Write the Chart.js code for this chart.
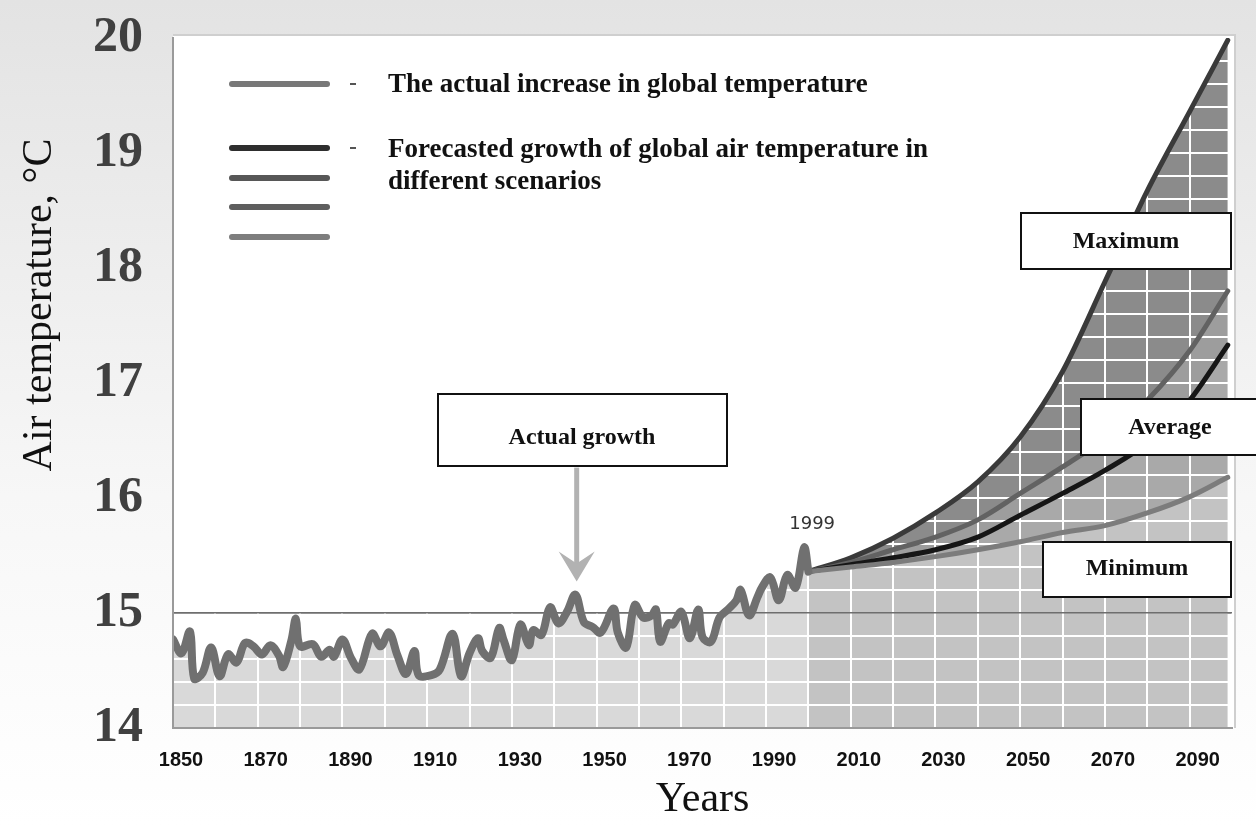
<!DOCTYPE html>
<html>
<head>
<meta charset="utf-8">
<title>Air temperature</title>
<script src="https://cdn.jsdelivr.net/npm/chart.js@4.4.1/dist/chart.umd.min.js"></script>
<style>
  html, body { margin: 0; padding: 0; background: #fff; overflow: hidden; }
  #contenedor { width: 1256px; height: 826px; position: relative; }
</style>
</head>
<body>
<div id="contenedor"><canvas id="grafico"></canvas></div>
<script>
let aniosReales = [1850, 1852, 1854, 1855, 1857, 1859, 1861, 1863, 1865, 1867, 1869, 1871, 1873, 1875, 1876, 1878, 1879, 1880,
  1883, 1885, 1887, 1888, 1890, 1892, 1894, 1897, 1899, 1901, 1903, 1905, 1907, 1908, 1911, 1913, 1916, 1918, 1920,
  1922, 1923, 1925, 1927, 1928, 1930, 1932, 1934, 1935, 1937, 1939, 1941, 1943, 1945, 1947, 1949, 1951, 1954, 1955,
  1957, 1959, 1961, 1963, 1964, 1965, 1967, 1968, 1970, 1972, 1974, 1975, 1977, 1979, 1981, 1983, 1984, 1986, 1988,
  1989, 1991, 1993, 1995, 1997, 1999, 2000]
let tempReales = [14.77, 14.65, 14.84, 14.43, 14.48, 14.70, 14.45, 14.64, 14.57, 14.74, 14.71, 14.64, 14.72, 14.63, 14.53, 14.77, 14.95, 14.71,
  14.73, 14.62, 14.68, 14.62, 14.77, 14.61, 14.51, 14.82, 14.71, 14.83, 14.63, 14.47, 14.67, 14.46, 14.46, 14.51, 14.82, 14.45, 14.65,
  14.78, 14.67, 14.61, 14.87, 14.77, 14.59, 14.90, 14.72, 14.85, 14.81, 15.05, 14.91, 15.01, 15.16, 14.92, 14.88, 14.83, 15.04, 14.83,
  14.70, 15.07, 14.96, 14.98, 15.03, 14.75, 14.91, 14.90, 15.01, 14.78, 15.03, 14.79, 14.75, 14.96, 15.03, 15.11, 15.20, 14.98, 15.14,
  15.22, 15.31, 15.11, 15.33, 15.22, 15.57, 15.36]

// Escenarios pronosticados
let aniosPronostico = [2000, 2010, 2020, 2030, 2040, 2050, 2060, 2070, 2080, 2090, 2099]
let tempMaxima = [15.36, 15.48, 15.65, 15.87, 16.14, 16.53, 17.10, 17.88, 18.67, 19.36, 19.98]
let tempAlta   = [15.36, 15.44, 15.55, 15.66, 15.81, 16.04, 16.27, 16.52, 16.85, 17.28, 17.80]
let tempMedia  = [15.36, 15.42, 15.48, 15.55, 15.66, 15.85, 16.04, 16.24, 16.48, 16.85, 17.33]
let tempMinima = [15.36, 15.40, 15.44, 15.49, 15.55, 15.62, 15.70, 15.76, 15.87, 16.01, 16.18]

// Etiquetas de los ejes
let etiquetasX = [1850, 1870, 1890, 1910, 1930, 1950, 1970, 1990, 2010, 2030, 2050, 2070, 2090]
let etiquetasY = [14, 15, 16, 17, 18, 19, 20]

let serif = '"Liberation Serif", "Times New Roman", serif'
let sans = '"Liberation Sans", Arial, sans-serif'

let puntos = (xs, ys) => xs.map((x, i) => ({x: x, y: ys[i]}))

// Fondo gris claro y área blanca del gráfico
let fondo = {
  id: 'fondo',
  beforeDraw(chart) {
    let {ctx, width, height, chartArea} = chart
    let grad = ctx.createLinearGradient(0, 0, 0, height)
    grad.addColorStop(0, '#e3e3e3')
    grad.addColorStop(0.6, '#f7f7f7')
    grad.addColorStop(1, '#ffffff')
    ctx.save()
    ctx.fillStyle = grad
    ctx.fillRect(0, 0, width, height)
    ctx.fillStyle = '#ffffff'
    ctx.fillRect(chartArea.left, chartArea.top - 3, chartArea.right - chartArea.left + 3, chartArea.bottom - chartArea.top + 3)
    ctx.strokeStyle = '#cfcfcf'
    ctx.lineWidth = 2
    ctx.beginPath()
    ctx.moveTo(chartArea.left, chartArea.top - 3)
    ctx.lineTo(chartArea.right + 3, chartArea.top - 3)
    ctx.lineTo(chartArea.right + 3, chartArea.bottom)
    ctx.stroke()
    ctx.restore()
  }
}

// La rejilla blanca se vuelve a dibujar encima de los rellenos grises
let rejilla = {
  id: 'rejilla',
  beforeDatasetsDraw(chart) {
    chart.scales.x.drawGrid(chart.chartArea)
    chart.scales.y.drawGrid(chart.chartArea)
  }
}

let caja = (ctx, x, y, w, h, texto, cx, cy) => {
  ctx.fillStyle = '#ffffff'
  ctx.fillRect(x, y, w, h)
  ctx.strokeStyle = '#111111'
  ctx.lineWidth = 2
  ctx.strokeRect(x, y, w, h)
  ctx.fillStyle = '#111111'
  ctx.font = 'bold 24px ' + serif
  ctx.textAlign = 'center'
  ctx.textBaseline = 'middle'
  ctx.fillText(texto, cx, cy)
}

let linea = (ctx, x1, x2, y, color) => {
  ctx.strokeStyle = color
  ctx.lineWidth = 6
  ctx.lineCap = 'round'
  ctx.beginPath()
  ctx.moveTo(x1, y)
  ctx.lineTo(x2, y)
  ctx.stroke()
}

// Leyenda, cajas, flecha y rótulos
let anotaciones = {
  id: 'anotaciones',
  afterDraw(chart) {
    let ctx = chart.ctx
    let sx = chart.scales.x
    let sy = chart.scales.y
    ctx.save()

    // Leyenda
    linea(ctx, 232, 327, 84, '#787878')
    linea(ctx, 232, 327, 148, '#2e2e2e')
    linea(ctx, 232, 327, 178, '#575757')
    linea(ctx, 232, 327, 207, '#5e5e5e')
    linea(ctx, 232, 327, 237, '#7e7e7e')
    ctx.fillStyle = '#555555'
    ctx.fillRect(350, 83, 6, 2)
    ctx.fillRect(350, 147, 6, 2)
    ctx.fillStyle = '#111111'
    ctx.font = 'bold 27px ' + serif
    ctx.textAlign = 'left'
    ctx.textBaseline = 'middle'
    ctx.fillText('The actual increase in global temperature', 388, 85)
    ctx.fillText('Forecasted growth of global air temperature in', 388, 150)
    ctx.fillText('different scenarios', 388, 182)

    // Flecha hacia el pico de 1945
    let xf = sx.getPixelForValue(1945.3)
    let yf = sy.getPixelForValue(15.16) - 13
    ctx.strokeStyle = '#b2b2b2'
    ctx.fillStyle = '#b2b2b2'
    ctx.lineWidth = 5
    ctx.lineCap = 'butt'
    ctx.beginPath()
    ctx.moveTo(xf, yf - 114)
    ctx.lineTo(xf, yf - 12)
    ctx.stroke()
    ctx.beginPath()
    ctx.moveTo(xf, yf)
    ctx.lineTo(xf - 18, yf - 30)
    ctx.lineTo(xf, yf - 18)
    ctx.lineTo(xf + 18, yf - 30)
    ctx.closePath()
    ctx.fill()

    // Cajas de texto
    caja(ctx, 438, 394, 289, 72, 'Actual growth', 582, 438)
    caja(ctx, 1021, 213, 210, 56, 'Maximum', 1126, 242)
    caja(ctx, 1081, 399, 190, 56, 'Average', 1170, 428)
    caja(ctx, 1043, 542, 188, 55, 'Minimum', 1137, 569)

    // Rótulo 1999
    ctx.fillStyle = '#333333'
    ctx.font = '18px "DejaVu Sans", sans-serif'
    ctx.textAlign = 'center'
    ctx.textBaseline = 'middle'
    ctx.fillText('1999', sx.getPixelForValue(1999) + 8, sy.getPixelForValue(15.57) - 23)

    // Título del eje Y
    ctx.translate(40, 305)
    ctx.rotate(-Math.PI / 2)
    ctx.fillStyle = '#111111'
    ctx.font = '42px ' + serif
    ctx.textAlign = 'center'
    ctx.fillText('Air temperature, °C', 0, 0)
    ctx.restore()
  }
}

let plotRef = document.getElementById('grafico')

let config = {
  type: 'line',
  data: {
    datasets: [
      {
        label: 'The actual increase in global temperature',
        data: puntos(aniosReales, tempReales),
        borderColor: '#707070',
        borderWidth: 8,
        backgroundColor: '#d9d9d9',
        fill: 'start',
        tension: 0.35
      },
      {
        label: 'Minimum',
        data: puntos(aniosPronostico, tempMinima),
        borderColor: '#7c7c7c',
        borderWidth: 5,
        backgroundColor: '#c3c3c3',
        fill: 'start',
        cubicInterpolationMode: 'monotone'
      },
      {
        label: 'Average',
        data: puntos(aniosPronostico, tempMedia),
        borderColor: '#161616',
        borderWidth: 5,
        backgroundColor: '#a9a9a9',
        fill: 1,
        cubicInterpolationMode: 'monotone'
      },
      {
        label: 'Upper',
        data: puntos(aniosPronostico, tempAlta),
        borderColor: '#626262',
        borderWidth: 5,
        backgroundColor: '#9d9d9d',
        fill: 2,
        cubicInterpolationMode: 'monotone'
      },
      {
        label: 'Maximum',
        data: puntos(aniosPronostico, tempMaxima),
        borderColor: '#3a3a3a',
        borderWidth: 5,
        backgroundColor: '#8b8b8b',
        fill: 3,
        cubicInterpolationMode: 'monotone'
      }
    ]
  },
  options: {
    responsive: true,
    maintainAspectRatio: false,
    animation: false,
    layout: { padding: { top: 38, right: 24, left: 0, bottom: 0 } },
    elements: {
      point: { radius: 0 },
      line: { borderCapStyle: 'round', borderJoinStyle: 'round' }
    },
    plugins: {
      legend: { display: false },
      tooltip: { enabled: false },
      filler: { drawTime: 'beforeDatasetsDraw' }
    },
    scales: {
      x: {
        type: 'linear',
        min: 1850,
        max: 2100,
        afterFit: (escala) => { escala.height = 98 },
        ticks: {
          stepSize: 10,
          autoSkip: false,
          maxRotation: 0,
          padding: 20,
          labelOffset: 8,
          color: '#111111',
          font: { family: sans, size: 20, weight: 'bold' },
          callback: (v) => etiquetasX.includes(v) ? String(v) : ''
        },
        grid: { color: '#ffffff', lineWidth: 2, drawTicks: false },
        border: { color: '#9a9a9a', width: 2, z: 1 },
        title: {
          display: true,
          text: 'Years',
          color: '#111111',
          font: { family: serif, size: 42 },
          padding: { top: 0, bottom: 1 }
        }
      },
      y: {
        min: 14,
        max: 20,
        afterFit: (escala) => {
          escala.width = 173
          escala.paddingTop = 0
          escala.paddingBottom = 0
        },
        ticks: {
          stepSize: 0.2,
          autoSkip: false,
          padding: 30,
          color: '#404040',
          font: { family: serif, size: 50, weight: 'bold' },
          callback: (v) => {
            let e = etiquetasY.find(t => Math.abs(t - v) < 1e-6)
            return e === undefined ? '' : String(e)
          }
        },
        grid: {
          color: (c) => c.tick && Math.abs(c.tick.value - 15) < 1e-6 ? '#6e6e6e' : '#ffffff',
          lineWidth: (c) => c.tick && Math.abs(c.tick.value - 15) < 1e-6 ? 1.5 : 2,
          drawTicks: false
        },
        border: { color: '#9a9a9a', width: 2, z: 1 }
      }
    }
  },
  plugins: [fondo, rejilla, anotaciones]
}

let chart1 = new Chart(plotRef, config)
</script>
</body>
</html>
